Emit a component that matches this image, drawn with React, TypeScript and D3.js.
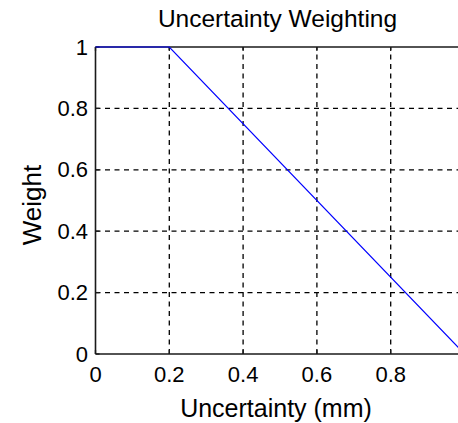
import React from "react";
import * as d3 from "d3";

const xValues = [0, 0.2, 1];
const yValues = [1, 1, 0];
const xTicks = [0, 0.2, 0.4, 0.6, 0.8];
const yTicks = [0, 0.2, 0.4, 0.6, 0.8, 1];
const gridX = [0.2, 0.4, 0.6, 0.8];
const gridY = [0.2, 0.4, 0.6, 0.8];
const title = "Uncertainty Weighting";
const xLabel = "Uncertainty (mm)";
const yLabel = "Weight";

const W = 458;
const H = 423;

export default function App() {
  const x = d3.scaleLinear().domain([0, 1]).range([95.5, 464.5]);
  const y = d3.scaleLinear().domain([0, 1]).range([354, 47]);
  const pts: [number, number][] = xValues.map((v, i) => [v, yValues[i]]);
  const line = d3
    .line<[number, number]>()
    .x((d) => x(d[0]))
    .y((d) => y(d[1]));
  const font = "'Liberation Sans', Arial, sans-serif";
  const dash = "5,4.5";
  const axisColor = "#1a1a1a";
  return (
    <svg
      width={W}
      height={H}
      style={{ position: "absolute", left: 0, top: 0, background: "#fff" }}
      fontFamily={font}
    >
      <rect x={0} y={0} width={W} height={H} fill="#fff" />
      {/* grid */}
      {gridX.map((v) => (
        <line
          key={"gx" + v}
          x1={x(v)}
          x2={x(v)}
          y1={y(0)}
          y2={y(1)}
          stroke="#000"
          strokeWidth={1.3}
          strokeDasharray={dash}
        />
      ))}
      {gridY.map((v) => (
        <line
          key={"gy" + v}
          x1={x(0)}
          x2={x(1)}
          y1={y(v)}
          y2={y(v)}
          stroke="#000"
          strokeWidth={1.3}
          strokeDasharray={dash}
        />
      ))}
      {/* ticks */}
      {xTicks.map((v) => (
        <g key={"tx" + v}>
          <line x1={x(v)} x2={x(v)} y1={y(0)} y2={y(0) - 4} stroke={axisColor} strokeWidth={1.3} />
          <line x1={x(v)} x2={x(v)} y1={y(1)} y2={y(1) + 4} stroke={axisColor} strokeWidth={1.3} />
        </g>
      ))}
      {yTicks.map((v) => (
        <line key={"ty" + v} x1={x(0)} x2={x(0) + 4} y1={y(v)} y2={y(v)} stroke={axisColor} strokeWidth={1.3} />
      ))}
      {/* axes box */}
      <line x1={x(0)} x2={x(1)} y1={y(0)} y2={y(0)} stroke={axisColor} strokeWidth={1.6} />
      <line x1={x(0)} x2={x(1)} y1={y(1)} y2={y(1)} stroke={axisColor} strokeWidth={1.6} />
      <line x1={x(0)} x2={x(0)} y1={y(0)} y2={y(1)} stroke={axisColor} strokeWidth={1.6} />
      <line x1={x(1)} x2={x(1)} y1={y(0)} y2={y(1)} stroke={axisColor} strokeWidth={1.6} />
      {/* data */}
      <path d={line(pts) || ""} fill="none" stroke="#0000ff" strokeWidth={1.2} />
      {/* tick labels */}
      {xTicks.map((v) => (
        <text key={"lx" + v} x={x(v)} y={382} textAnchor="middle" fontSize={22} fill="#000">
          {String(v)}
        </text>
      ))}
      {yTicks.map((v) => (
        <text
          key={"ly" + v}
          x={88}
          y={y(v) + 7.5}
          textAnchor="end"
          fontSize={22}
          fill="#000"
        >
          {String(v)}
        </text>
      ))}
      <text x={277.5} y={27} textAnchor="middle" fontSize={24.5} fill="#000">
        {title}
      </text>
      <text x={276} y={417} textAnchor="middle" fontSize={25} fill="#000">
        {xLabel}
      </text>
      <text
        transform={`translate(41, 205) rotate(-90)`}
        textAnchor="middle"
        fontSize={26}
        fill="#000"
      >
        {yLabel}
      </text>
    </svg>
  );
}
